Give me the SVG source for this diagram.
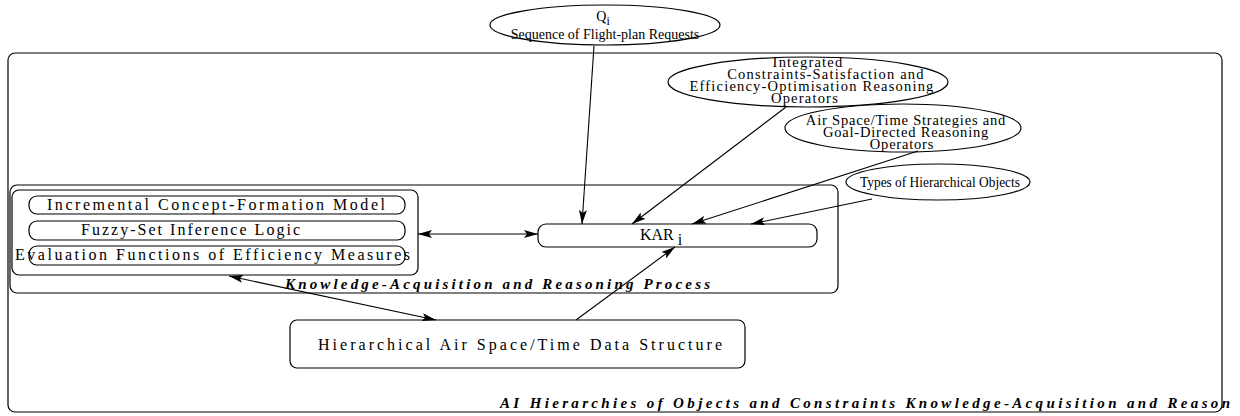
<svg xmlns="http://www.w3.org/2000/svg" width="1240" height="416" viewBox="0 0 1240 416">
<style>
.s{fill:none;stroke:#000;stroke-width:1.2}
.w{fill:#fff;stroke:#000;stroke-width:1.2}
.t{font-family:"Liberation Serif","Times New Roman",serif;font-size:14px;fill:#000}
.e{font-family:"Liberation Serif","Times New Roman",serif;font-size:14.5px;fill:#000}
.li{letter-spacing:1.2px}
.la{letter-spacing:0.8px}
.n{font-family:"Liberation Serif","Times New Roman",serif;font-size:16px;fill:#000}
.m{text-anchor:middle}
.b{font-family:"Liberation Serif","Times New Roman",serif;font-size:15px;font-weight:bold;font-style:italic;fill:#000}
.c{fill:none;stroke:#000;stroke-width:1.1}
</style>
<defs>
<marker id="ah" markerUnits="userSpaceOnUse" markerWidth="14" markerHeight="8" refX="14" refY="4" orient="auto-start-reverse">
<path d="M0,0 L14,4 L0,8 L3,4 z" fill="#000"/>
</marker>
</defs>
<g id="outer">
<rect class="s" x="8" y="53" width="1214" height="359" rx="7"/>
<text class="b" x="500" y="408" textLength="730" lengthAdjust="spacing">AI  Hierarchies of Objects and Constraints   Knowledge-Acquisition and Reason</text>
</g>
<g id="kar-process">
<rect class="s" x="10" y="185" width="828" height="108" rx="7"/>
<text class="b" x="285" y="289" textLength="425" lengthAdjust="spacing">Knowledge-Acquisition and Reasoning  Process</text>
</g>
<g id="q">
<ellipse class="w" cx="605" cy="25" rx="115" ry="20"/>
<text class="t m" x="603" y="21" font-size="15">Q<tspan font-size="12" dy="4">i</tspan></text>
<text class="t m" x="605" y="39">Sequence of Flight-plan Requests</text>
</g>
<g id="integrated">
<ellipse class="w" cx="808" cy="82" rx="140" ry="25"/>
<text class="e m li" x="808" y="67">Integrated</text>
<text class="e m li" x="826" y="79">Constraints-Satisfaction and</text>
<text class="e m li" x="812" y="91">Efficiency-Optimisation Reasoning</text>
<text class="e m li" x="805" y="103">Operators</text>
</g>
<g id="airspace">
<ellipse class="w" cx="903" cy="128" rx="118" ry="24"/>
<text class="e m la" x="906" y="125">Air Space/Time Strategies and</text>
<text class="e m la" x="906" y="137">Goal-Directed Reasoning</text>
<text class="e m la" x="902" y="149">Operators</text>
</g>
<g id="types">
<ellipse class="w" cx="938" cy="182" rx="92" ry="18"/>
<text class="e m" x="940" y="187" textLength="160" lengthAdjust="spacingAndGlyphs">Types of Hierarchical Objects</text>
</g>
<g id="group">
<rect class="s" x="12" y="190" width="406" height="85" rx="7"/>
</g>
<g id="incremental">
<rect class="s" x="29" y="196" width="376" height="18" rx="8"/>
<text class="n" x="47" y="210" textLength="338" lengthAdjust="spacing">Incremental Concept-Formation Model</text>
</g>
<g id="fuzzy">
<rect class="s" x="29" y="221" width="376" height="19" rx="8"/>
<text class="n" x="81" y="235" textLength="219" lengthAdjust="spacing">Fuzzy-Set Inference Logic</text>
</g>
<g id="evaluation">
<rect class="s" x="29" y="246" width="376" height="19" rx="8"/>
<text class="n" x="15" y="260" textLength="395" lengthAdjust="spacing">Evaluation Functions of Efficiency Measures</text>
</g>
<g id="kar">
<rect class="s" x="538" y="224" width="279" height="23" rx="8"/>
<text class="n" x="640" y="240">KAR<tspan dx="4" dy="5">i</tspan></text>
</g>
<g id="hier">
<rect class="s" x="290" y="320" width="455" height="48" rx="7"/>
<text class="n" x="318" y="350" textLength="404" lengthAdjust="spacing">Hierarchical Air Space/Time Data Structure</text>
</g>
<g id="connectors">
<line class="c" x1="418" y1="234" x2="538" y2="234" marker-start="url(#ah)" marker-end="url(#ah)"/>
<line class="c" x1="594" y1="46" x2="582" y2="224" marker-end="url(#ah)"/>
<line class="c" x1="786" y1="107" x2="632" y2="224" marker-end="url(#ah)"/>
<line class="c" x1="918" y1="151" x2="692" y2="224" marker-end="url(#ah)"/>
<line class="c" x1="872" y1="199" x2="751" y2="224" marker-end="url(#ah)"/>
<line class="c" x1="576" y1="320" x2="675" y2="247" marker-end="url(#ah)"/>
<line class="c" x1="229" y1="276" x2="436" y2="320" marker-start="url(#ah)" marker-end="url(#ah)"/>
</g>
</svg>
